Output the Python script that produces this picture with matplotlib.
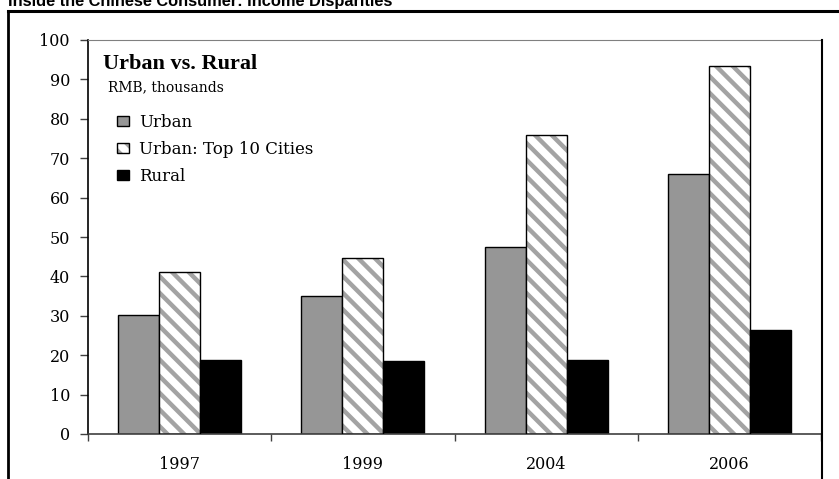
import matplotlib
matplotlib.use("Agg")
import matplotlib.pyplot as plt
from matplotlib.patches import Patch
from matplotlib.lines import Line2D
import numpy as np

plt.rcParams['hatch.linewidth'] = 3.2

years = ['1997', '1999', '2004', '2006']
urban = [30.2, 35.0, 47.4, 66.1]
top10 = [41.0, 44.7, 76.0, 93.3]
rural = [18.8, 18.5, 18.8, 26.3]
names = ['Urban', 'Urban: Top 10 Cities', 'Rural']

W, H = 839, 479
fig = plt.figure(figsize=(W / 100, H / 100), dpi=100)
ax = fig.add_axes([88 / W, 1 - 434 / H, (821 - 88) / W, (434 - 40) / H])

x = np.arange(len(years))
bw = 0.224
ax.bar(x - bw, urban, bw, color='#969696', edgecolor='black', linewidth=1, zorder=2)
# hatch takes the edge colour, so draw the grey stripes first and the black outline on top
ax.bar(x, top10, bw, color='white', edgecolor='#a3a3a3', linewidth=0, hatch='\\\\', zorder=2)
ax.bar(x, top10, bw, fill=False, edgecolor='black', linewidth=1, zorder=3)
ax.bar(x + bw, rural, bw, color='black', edgecolor='black', linewidth=1, zorder=2)

ax.set_xlim(-0.5, len(years) - 0.5)
ax.set_ylim(0, 100)
ax.set_yticks(np.arange(0, 101, 10))
ax.set_xticks(np.arange(-0.5, len(years), 1))
ax.set_xticklabels([])
ax.set_xticks(x, minor=True)
ax.set_xticklabels(years, minor=True)
ax.tick_params(axis='x', which='major', direction='out', length=5, width=1, color='#404040')
ax.tick_params(axis='x', which='minor', length=0, pad=16)
ax.tick_params(axis='y', direction='out', length=6, width=1, pad=7, color='#404040')
for lab in ax.get_xticklabels(minor=True) + ax.get_yticklabels():
    lab.set_fontfamily('DejaVu Serif')
    lab.set_fontsize(11.5)

ax.spines['right'].set_visible(False)
ax.spines['top'].set_color('#808080')
ax.spines['left'].set_color('black')
ax.spines['left'].set_linewidth(1.2)
ax.spines['bottom'].set_color('#404040')
ax.spines['bottom'].set_linewidth(1.2)

ax.text(0.02, 0.965, 'Urban vs. Rural', transform=ax.transAxes, fontfamily='Liberation Serif',
        fontweight='bold', fontsize=16, va='top', ha='left')
ax.text(0.027, 0.879, 'RMB, thousands', transform=ax.transAxes, fontfamily='DejaVu Serif',
        fontsize=10, va='center', ha='left')

handles = [Patch(facecolor='#969696', edgecolor='black', linewidth=1),
           (Patch(facecolor='white', edgecolor='#a3a3a3', linewidth=0, hatch='\\\\'),
            Patch(fill=False, edgecolor='black', linewidth=1)),
           Patch(facecolor='black', edgecolor='black', linewidth=1)]
ax.legend(handles, names, loc='upper left', bbox_to_anchor=(0.039, 0.812), frameon=False,
          prop={'family': 'DejaVu Serif', 'size': 12}, handlelength=0.75, handleheight=0.55,
          handletextpad=0.6, labelspacing=0.6, borderaxespad=0, borderpad=0)

# outer frame
fig.add_artist(Line2D([8 / W, 8 / W], [0, 1 - 11 / H], color='black', lw=2))
fig.add_artist(Line2D([8 / W, 1], [1 - 11 / H, 1 - 11 / H], color='black', lw=2.2))
fig.add_artist(Line2D([822 / W, 822 / W], [0, 1 - 40 / H], color='black', lw=1.5))

fig.text(8 / W, 1 - 6 / H, 'Inside the Chinese Consumer: Income Disparities',
         fontfamily='Liberation Sans', fontweight='bold', fontsize=11.8, va='baseline', ha='left')

fig.savefig('out.png', dpi=100)
